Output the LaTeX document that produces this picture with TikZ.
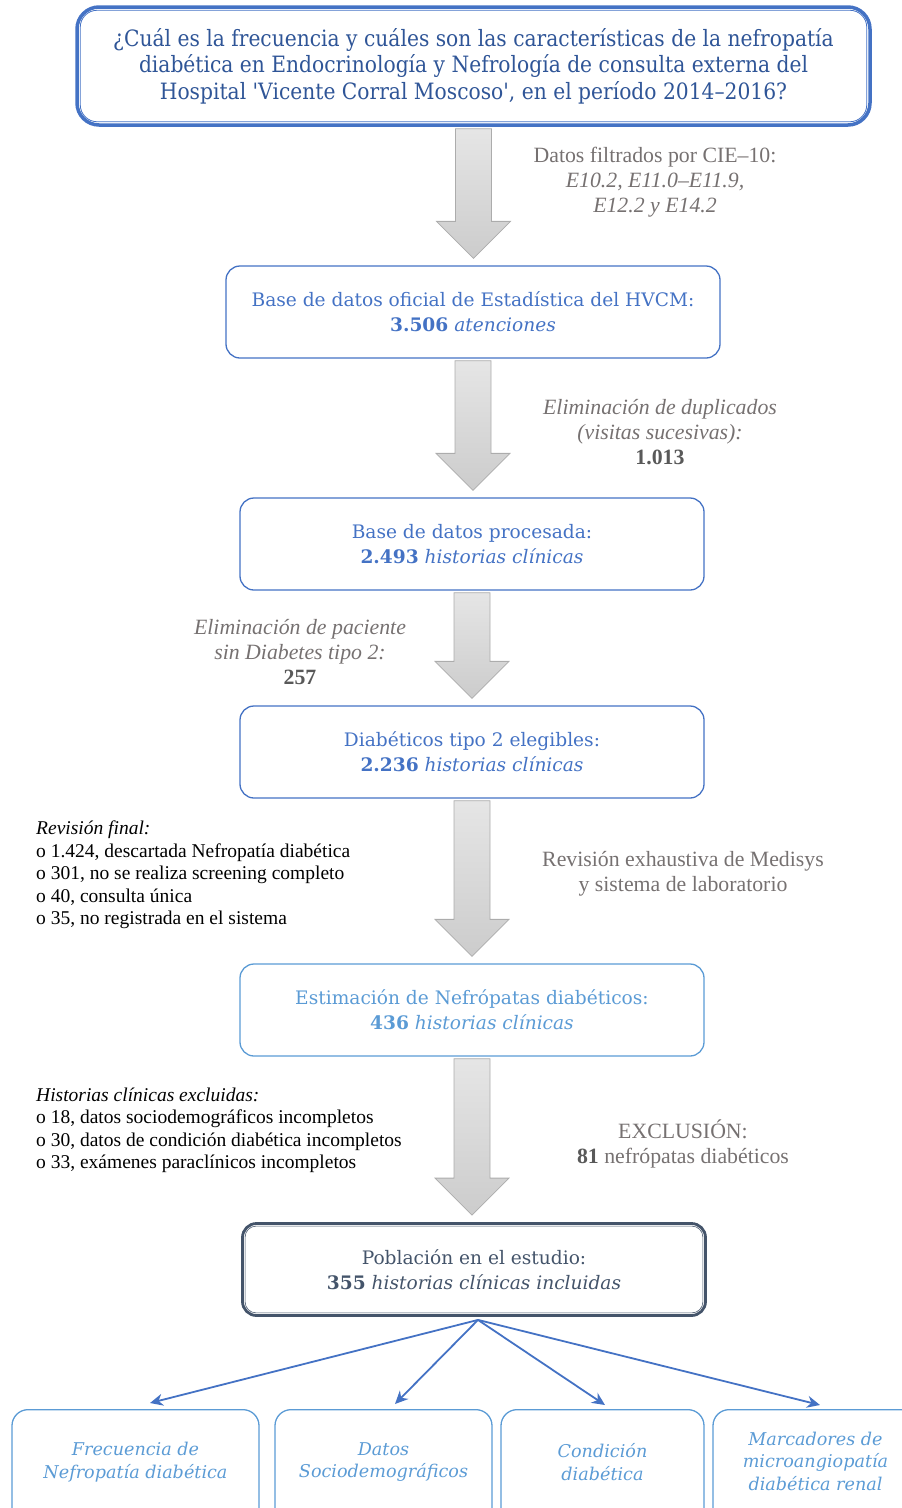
\documentclass[tikz,border=0pt]{standalone}
\usepackage{fontspec}
\setmainfont{Liberation Serif}
\newfontfamily\cajafont{DejaVu Serif}
\newfontfamily\preguntafont[FakeStretch=0.90]{DejaVu Serif}
\usetikzlibrary{arrows.meta,calc,positioning}

\definecolor{azul}{HTML}{4472C4}
\definecolor{azuloscuro}{HTML}{2F5597}
\definecolor{celeste}{HTML}{5B9BD5}
\definecolor{pizarra}{HTML}{44546A}
\definecolor{gristexto}{HTML}{767171}
\definecolor{grisnum}{HTML}{595959}

\tikzset{
  caja/.style={draw=azul, line width=1.3pt, rounded corners=14pt, text=azul,
    align=center, minimum width=464pt, minimum height=92pt,
    font=\cajafont\fontsize{18.6}{25}\selectfont},
  subcaja/.style={draw=celeste, line width=1.3pt, rounded corners=16pt,
    minimum height=130pt},
  subtexto/.style={text=celeste, align=center,
    font=\cajafont\itshape\fontsize{17.6}{22.5}\selectfont},
  nota/.style={text=gristexto, align=center, inner sep=0pt,
    font=\fontsize{21.8}{25}\selectfont},
  lista/.style={anchor=west, align=left, inner sep=0pt,
    font=\fontsize{19.5}{22.5}\selectfont},
  flechagris/.style={draw=gray!65, line width=0.8pt, top color=gray!20, bottom color=gray!40},
  enlace/.style={draw=azul, line width=1.8pt, -{Stealth[length=13pt,width=12pt]}}
}

% big gray arrow from box #1 to box #2
\newcommand{\flecha}[2]{%
  \path[flechagris] let \p1=(#1.south), \p2=(#2.north) in
    (\x1-18pt,\y1-2pt) -- (\x1+18pt,\y1-2pt) -- (\x1+18pt,\y2+44pt)
    -- (\x1+37pt,\y2+44pt) -- (\x1,\y2+7pt) -- (\x1-37pt,\y2+44pt)
    -- (\x1-18pt,\y2+44pt) -- cycle;}

\begin{document}
\begin{tikzpicture}[x=1pt,y=-1pt]
\useasboundingbox (0,0) rectangle (902,1508);
\clip (0,0) rectangle (902,1508);

% the question
\node[draw=azul, line width=3.5pt, rounded corners=22pt, text=azuloscuro, align=center,
      minimum width=793pt, minimum height=118pt,
      font=\preguntafont\fontsize{22.5}{26.5}\selectfont] (pregunta) at (473.5,66)
  {¿Cuál es la frecuencia y cuáles son las características de la nefropatía\\
   diabética en Endocrinología y Nefrología de consulta externa del\\
   Hospital 'Vicente Corral Moscoso', en el período 2014–2016?};
\draw[azul, line width=0.8pt, rounded corners=17pt]
  ([shift={(5pt,-5pt)}]pregunta.north west) rectangle ([shift={(-5pt,5pt)}]pregunta.south east);

% the boxes
\node[caja, minimum width=494pt] (oficial) at (473,312)
  {Base de datos oficial de Estadística del HVCM:\\
   {\bfseries 3.506} \textit{atenciones}};
\node[caja] (procesada) at (472,544)
  {Base de datos procesada:\\ {\bfseries 2.493} \textit{historias clínicas}};
\node[caja] (elegibles) at (472,752)
  {Diabéticos tipo 2 elegibles:\\ {\bfseries 2.236} \textit{historias clínicas}};
\node[caja, draw=celeste, text=celeste] (estimacion) at (472,1010)
  {Estimación de Nefrópatas diabéticos:\\ {\bfseries 436} \textit{historias clínicas}};
\node[caja, draw=pizarra, text=pizarra, line width=2.8pt, minimum width=463pt,
      minimum height=92pt] (poblacion) at (474,1269.5)
  {Población en el estudio:\\ {\bfseries 355} \textit{historias clínicas incluidas}};
\draw[pizarra, line width=0.6pt, rounded corners=11pt]
  ([shift={(4pt,-4pt)}]poblacion.north west) rectangle ([shift={(-4pt,4pt)}]poblacion.south east);

% the big arrows
\flecha{pregunta}{oficial}
\flecha{oficial}{procesada}
\flecha{procesada}{elegibles}
\flecha{elegibles}{estimacion}
\flecha{estimacion}{poblacion}

% the notes
\node[nota] (filtro) at (655,182)
  {Datos filtrados por CIE–10:\\ \textit{E10.2, E11.0–E11.9,}\\ \textit{E12.2 y E14.2}};
\node[nota] (duplicados) at (660,432)
  {\textit{Eliminación de duplicados}\\ \textit{(visitas sucesivas):}\\
   \textcolor{grisnum}{\bfseries 1.013}};
\node[nota] (sindiabetes) at (300,652)
  {\textit{Eliminación de paciente}\\ \textit{sin Diabetes tipo 2:}\\
   \textcolor{grisnum}{\bfseries 257}};
\node[nota] (medisys) at (683,873.5)
  {Revisión exhaustiva de Medisys\\ y sistema de laboratorio};
\node[nota] (exclusion) at (683,1143.5)
  {EXCLUSIÓN:\\ \textcolor{grisnum}{\bfseries 81} nefrópatas diabéticos};

% the lists
\node[lista] (revision) at (36,875)
  {\textit{Revisión final:}\\
   o 1.424, descartada Nefropatía diabética\\
   o 301, no se realiza screening completo\\
   o 40, consulta única\\
   o 35, no registrada en el sistema};
\node[lista] (excluidas) at (36,1130.5)
  {\textit{Historias clínicas excluidas:}\\
   o 18, datos sociodemográficos incompletos\\
   o 30, datos de condición diabética incompletos\\
   o 33, exámenes paraclínicos incompletos};

% the outcomes
\node[subcaja, minimum width=247pt, anchor=north] (frecuencia) at (135.5,1409) {};
\node[subcaja, minimum width=217pt, anchor=north] (datos) at (383.5,1409) {};
\node[subcaja, minimum width=203pt, anchor=north] (condicion) at (602.5,1409) {};
\node[subcaja, minimum width=205pt, anchor=north] (marcadores) at (815.5,1409) {};
\node[subtexto] (frecuencia-t) at (135.5,1462) {Frecuencia de\\ Nefropatía diabética};
\node[subtexto] (datos-t) at (383.5,1462) {Datos\\ Sociodemográficos};
\node[subtexto] (condicion-t) at (602.5,1462) {Condición\\ diabética};
\node[subtexto] (marcadores-t) at (815.5,1461) {Marcadores de\\ microangiopatía\\ diabética renal};

\coordinate (salida) at ([shift={(4pt,-3pt)}]poblacion.south);
\coordinate (frecuencia-in) at ([shift={(14.5pt,6pt)}]frecuencia.north);
\coordinate (datos-in) at ([shift={(11.5pt,5pt)}]datos.north);
\coordinate (condicion-in) at ([shift={(2.5pt,4pt)}]condicion.north);
\coordinate (marcadores-in) at ([shift={(4.5pt,4pt)}]marcadores.north);

\path (salida) edge[enlace] (frecuencia-in)
      (salida) edge[enlace] (datos-in)
      (salida) edge[enlace] (condicion-in)
      (salida) edge[enlace] (marcadores-in);
\end{tikzpicture}
\end{document}
